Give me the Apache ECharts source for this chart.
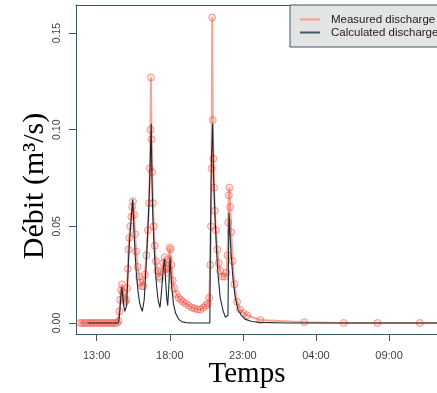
<!DOCTYPE html>
<html>
<head>
<meta charset="utf-8">
<script src="https://cdn.jsdelivr.net/npm/echarts@6/dist/echarts.min.js"></script>
<style>
html,body{margin:0;padding:0;background:#fff;}
#c{width:437px;height:393px;}
</style>
</head>
<body>
<div id="c"></div>
<script>
// Time in decimal hours since midnight of day 1 (24+ = next day)
var measuredHour = [11.85, 12.0, 12.15, 12.3, 12.45, 12.6, 12.75, 12.9, 13.05, 13.2, 13.35, 13.5, 13.65, 13.8, 13.95, 14.1, 14.25, 14.4, 14.5, 14.55, 14.6, 14.67, 14.73, 14.8, 14.87, 14.95, 15.02, 15.08, 15.13, 15.18, 15.23, 15.3, 15.37, 15.43, 15.48, 15.55, 15.62, 15.7, 15.8, 15.9, 16.0, 16.1, 16.2, 16.3, 16.4, 16.5, 16.58, 16.64, 16.68, 16.71, 16.75, 16.8, 16.85, 16.9, 16.97, 17.05, 17.15, 17.25, 17.35, 17.45, 17.55, 17.65, 17.75, 17.85, 17.93, 18.0, 18.05, 18.12, 18.2, 18.3, 18.45, 18.6, 18.75, 18.9, 19.1, 19.3, 19.5, 19.7, 19.9, 20.1, 20.3, 20.45, 20.6, 20.7, 20.77, 20.82, 20.86, 20.9, 20.94, 20.98, 21.03, 21.08, 21.15, 21.25, 21.35, 21.45, 21.6, 21.75, 21.88, 21.95, 22.0, 22.04, 22.08, 22.13, 22.2, 22.3, 22.42, 22.6, 22.8, 23.05, 23.3, 24.2, 27.2, 29.9, 32.2, 35.1, 37.0];
var measuredValue = [0, 0, 0, 0, 0, 0, 0, 0, 0, 0, 0, 0, 0, 0, 0, 0, 0, 0, 0.001, 0.006, 0.012, 0.017, 0.020, 0.016, 0.013, 0.011, 0.012, 0.018, 0.028, 0.038, 0.044, 0.050, 0.055, 0.060, 0.063, 0.056, 0.046, 0.037, 0.029, 0.024, 0.021, 0.019, 0.019, 0.025, 0.035, 0.048, 0.062, 0.080, 0.100, 0.127, 0.095, 0.078, 0.062, 0.050, 0.040, 0.032, 0.027, 0.024, 0.023, 0.027, 0.031, 0.034, 0.028, 0.026, 0.033, 0.039, 0.038, 0.030, 0.022, 0.018, 0.015, 0.013, 0.012, 0.011, 0.010, 0.009, 0.008, 0.0075, 0.007, 0.007, 0.008, 0.009, 0.010, 0.013, 0.030, 0.050, 0.080, 0.158, 0.105, 0.085, 0.070, 0.058, 0.048, 0.038, 0.031, 0.027, 0.024, 0.024, 0.026, 0.035, 0.052, 0.066, 0.070, 0.060, 0.047, 0.032, 0.020, 0.011, 0.007, 0.005, 0.004, 0.0015, 0.0004, 0, 0, 0, 0];

var calcHour = [12.4, 13.0, 14.0, 14.5, 14.55, 14.62, 14.68, 14.72, 14.78, 14.85, 14.92, 15.0, 15.05, 15.12, 15.2, 15.28, 15.36, 15.42, 15.46, 15.5, 15.56, 15.64, 15.72, 15.82, 15.92, 16.02, 16.12, 16.18, 16.25, 16.35, 16.45, 16.55, 16.62, 16.68, 16.73, 16.78, 16.84, 16.92, 17.0, 17.1, 17.2, 17.33, 17.42, 17.52, 17.6, 17.65, 17.72, 17.8, 17.86, 17.94, 18.02, 18.06, 18.14, 18.25, 18.4, 18.6, 18.8, 19.1, 19.5, 20.0, 20.74, 20.78, 20.85, 20.93, 21.0, 21.09, 21.2, 21.3, 21.45, 21.64, 21.8, 21.93, 21.98, 22.05, 22.12, 22.2, 22.32, 22.48, 22.66, 22.9, 23.14, 23.6, 24.2, 26.0, 30.0, 37.0];
var calcValue = [0, 0, 0, 0, 0.003, 0.010, 0.016, 0.0185, 0.014, 0.009, 0.006, 0.005, 0.009, 0.022, 0.036, 0.046, 0.054, 0.060, 0.064, 0.058, 0.046, 0.034, 0.025, 0.017, 0.011, 0.008, 0.006, 0.006, 0.012, 0.025, 0.040, 0.057, 0.072, 0.088, 0.103, 0.075, 0.055, 0.040, 0.029, 0.019, 0.012, 0.008, 0.015, 0.025, 0.031, 0.033, 0.021, 0.012, 0.009, 0.020, 0.034, 0.028, 0.018, 0.010, 0.005, 0.002, 0.0008, 0.0002, 0, 0, 0, 0.045, 0.085, 0.103, 0.075, 0.056, 0.037, 0.025, 0.013, 0.0065, 0.003, 0.002, 0.004, 0.057, 0.046, 0.035, 0.023, 0.013, 0.007, 0.004, 0.002, 0.0008, 0.0003, 0, 0, 0];

var xTickHours = [13, 18, 23, 28, 33];
var yTickValues = [0, 0.05, 0.10, 0.15];
var seriesNames = ['Measured discharge', 'Calculated discharge'];

function pairs(xs, ys) { return xs.map(function (x, i) { return [x, ys[i]]; }); }
function hhmm(v) { var h = Math.round(v) % 24; return (h < 10 ? '0' : '') + h + ':00'; }

var chart = echarts.init(document.getElementById('c'), null, { renderer: 'canvas' });
var frame = '#3d5866';
var X_MIN = 11.584, X_MAX = 36.28;
chart.setOption({
  animation: false,
  backgroundColor: '#ffffff',
  grid: { left: 76, right: 0, top: 5, bottom: 59, show: false },
  xAxis: [{
    type: 'value', min: X_MIN, max: X_MAX, position: 'bottom',
    axisLine: { show: true, onZero: false, lineStyle: { color: frame, width: 1 } },
    splitLine: { show: false },
    axisTick: { show: true, length: 7, customValues: xTickHours, lineStyle: { color: frame } },
    axisLabel: { customValues: xTickHours, formatter: hhmm, margin: 16, fontSize: 11, color: '#444', fontFamily: 'Liberation Sans' }
  }, {
    type: 'value', min: X_MIN, max: X_MAX, position: 'top',
    axisLine: { show: true, onZero: false, lineStyle: { color: frame, width: 1 } },
    splitLine: { show: false }, axisTick: { show: false }, axisLabel: { show: false }
  }],
  yAxis: {
    type: 'value', min: -0.0057, max: 0.1645,
    axisLine: { show: true, onZero: false, lineStyle: { color: frame, width: 1 } },
    splitLine: { show: false },
    axisTick: { show: true, length: 7, customValues: yTickValues, lineStyle: { color: frame } },
    axisLabel: { customValues: yTickValues, rotate: 90, formatter: function (v) { return v.toFixed(2); }, margin: 13, fontSize: 10.5, color: '#444', fontFamily: 'Liberation Sans' }
  },
  legend: {
    orient: 'vertical', left: 290, top: 5,
    padding: [8, 40, 8, 10],
    backgroundColor: '#e4e4e4', borderColor: frame, borderWidth: 1, borderRadius: 0,
    itemWidth: 20, itemHeight: 2, itemGap: 0, icon: 'rect',
    textStyle: { fontSize: 11.5, lineHeight: 13, color: '#222', fontFamily: 'Liberation Sans', padding: [0, 0, 0, 6] },
    data: [
      { name: seriesNames[0], itemStyle: { color: '#f5a08a', borderWidth: 0 } },
      { name: seriesNames[1], itemStyle: { color: '#3c5a68', borderWidth: 0 } }
    ]
  },
  graphic: [
    { type: 'text', x: 35, y: 186, rotation: Math.PI / 2, style: { text: 'Débit (m³/s)', fontFamily: 'Liberation Serif', fontSize: 30, fill: '#000', align: 'center', verticalAlign: 'middle' } },
    { type: 'text', x: 247, y: 374, style: { text: 'Temps', fontFamily: 'Liberation Serif', fontSize: 29, fill: '#000', align: 'center', verticalAlign: 'middle' } }
  ],
  series: [
    {
      name: seriesNames[0], type: 'line', data: pairs(measuredHour, measuredValue),
      xAxisIndex: 0,
      showSymbol: true, showAllSymbol: true, symbol: 'circle', symbolSize: 7,
      lineStyle: { color: 'rgba(245,100,80,0.6)', width: 2 },
      itemStyle: { color: 'rgba(255,105,90,0.2)', borderColor: 'rgba(232,55,40,0.45)', borderWidth: 1 },
      emphasis: { disabled: true }, z: 2
    },
    {
      name: seriesNames[1], type: 'line', data: pairs(calcHour, calcValue),
      xAxisIndex: 0,
      showSymbol: false, symbol: 'none',
      lineStyle: { color: '#1d2a30', width: 1.1 },
      itemStyle: { color: '#1d2a30' },
      emphasis: { disabled: true }, z: 3
    }
  ]
});
</script>
</body>
</html>
